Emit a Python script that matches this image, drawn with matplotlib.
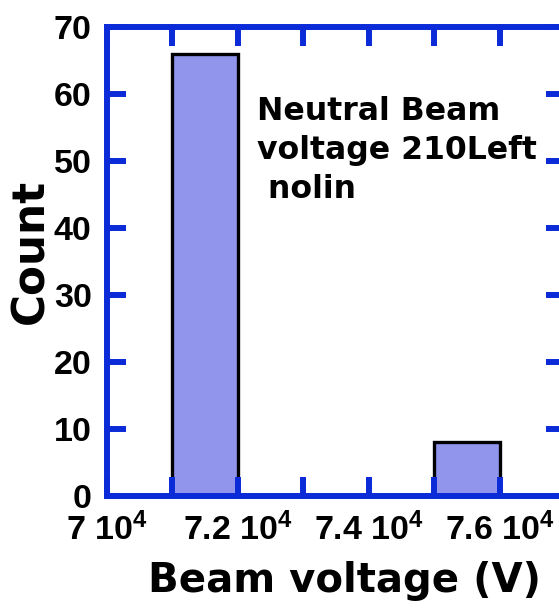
import matplotlib
matplotlib.use("Agg")
import matplotlib.pyplot as plt

# histogram of beam voltage (only non-empty bins)
bin_left = [71000, 75000]
bin_width = 1000
counts = [66, 8]

x_ticks = [70000, 71000, 72000, 73000, 74000, 75000, 76000, 77000]
x_tick_labels = ['7 10$^4$', '', '7.2 10$^4$', '', '7.4 10$^4$', '', '7.6 10$^4$', '']
y_ticks = [0, 10, 20, 30, 40, 50, 60, 70]

note = "Neutral Beam\nvoltage 210Left\n nolin"

blue = '#0b2bd8'
fill = '#9196ec'

plt.rcParams['font.family'] = 'Liberation Sans'
plt.rcParams['font.weight'] = 'bold'
plt.rcParams['mathtext.fontset'] = 'custom'
plt.rcParams['mathtext.rm'] = 'Liberation Sans:bold'
plt.rcParams['mathtext.it'] = 'Liberation Sans:bold'
plt.rcParams['mathtext.bf'] = 'Liberation Sans:bold'

fig = plt.figure(figsize=(5.59, 6.10), dpi=100)
ax = fig.add_axes([107/559, 1 - 496/610, 458/559, 469/610])

ax.bar(bin_left, counts, width=bin_width, align='edge',
       color=fill, edgecolor='black', linewidth=2.4, zorder=1)

ax.set_xlim(70000, 77000)
ax.set_ylim(0, 70)
ax.set_xticks(x_ticks)
ax.set_xticklabels(x_tick_labels)
ax.set_yticks(y_ticks)

for s in ax.spines.values():
    s.set_color(blue)
    s.set_linewidth(4.3)

ax.tick_params(which='both', direction='in', top=True, right=True,
               length=13.5, width=4.3, color=blue, labelsize=24.5)
ax.tick_params(axis='x', pad=12)
ax.tick_params(axis='y', pad=11)

ax.set_xlabel('Beam voltage (V)', fontfamily='DejaVu Sans', fontweight='bold', fontsize=29)
ax.xaxis.label.set_va('baseline')
ax.xaxis.set_label_coords((345 - 107) / 458, (496 - 592) / 469)

ax.set_ylabel('Count', fontfamily='DejaVu Sans', fontweight='bold', fontsize=31.5)
ax.yaxis.label.set_va('baseline')
ax.yaxis.set_label_coords((43 - 107) / 458, (496 - 251) / 469)

# va='baseline' anchors the last line of the block
ax.text(72290, 44.5, note, fontfamily='DejaVu Sans', fontweight='bold',
        fontsize=22.7, va='baseline', ha='left', linespacing=1.33)

fig.savefig('out.png', dpi=100)
